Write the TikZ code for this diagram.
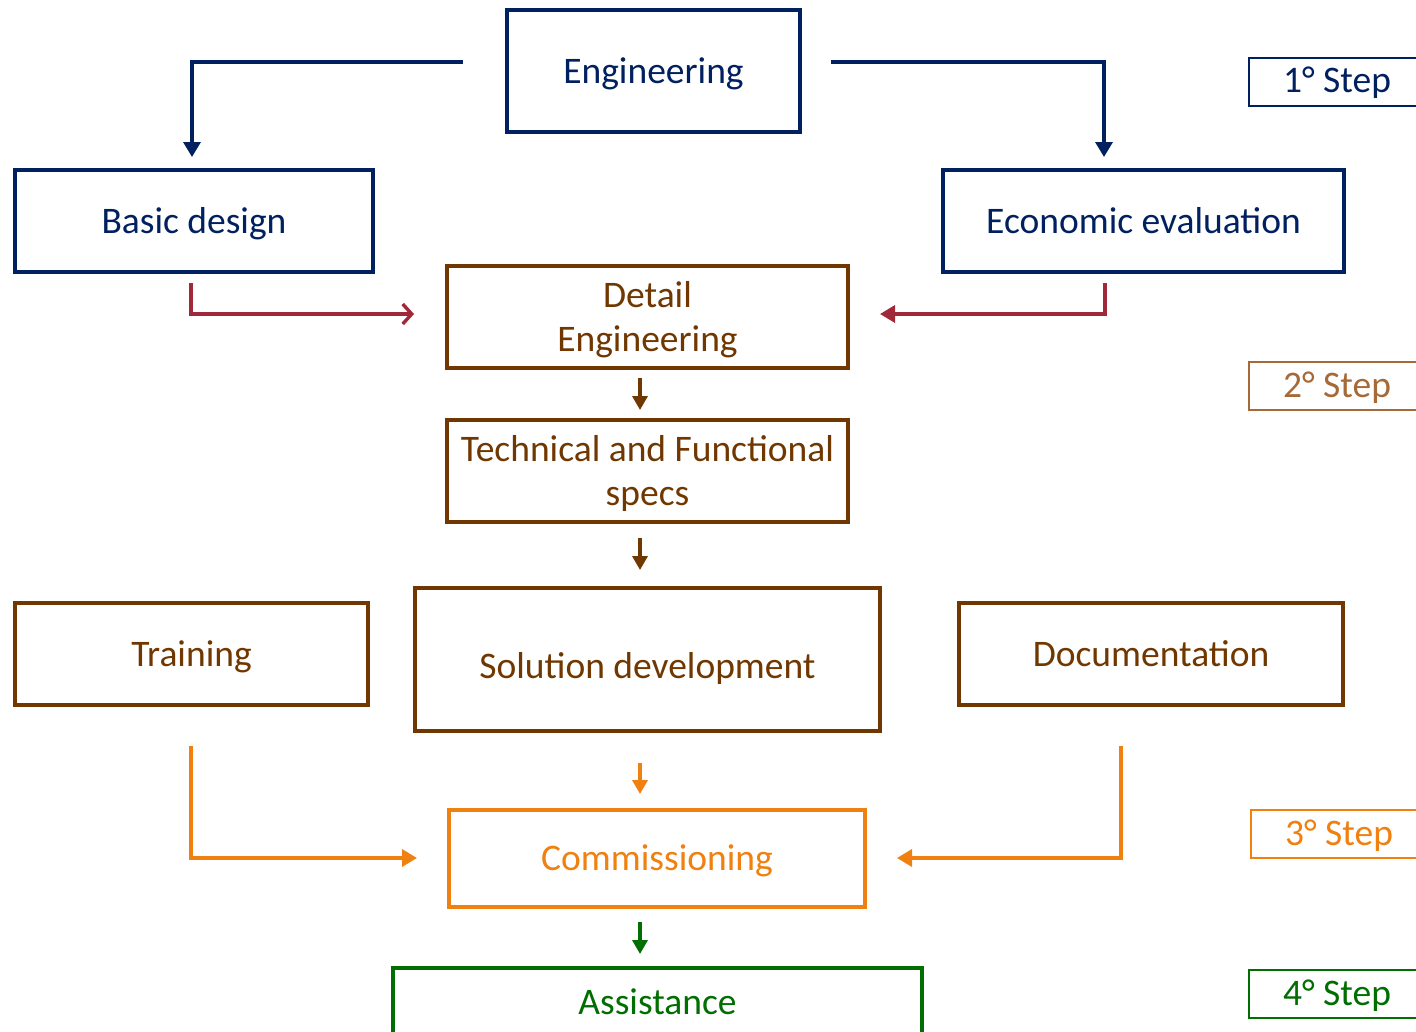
\documentclass[tikz,border=0pt]{standalone}
\usepackage{fontspec}
\setmainfont{Carlito}
\usetikzlibrary{arrows.meta}
\definecolor{navy}{RGB}{0,32,96}
\definecolor{brownc}{RGB}{112,56,0}
\definecolor{lbrown}{RGB}{166,106,56}
\definecolor{crim}{RGB}{160,40,56}
\definecolor{orng}{RGB}{240,128,16}
\definecolor{grn}{RGB}{0,110,0}
\tikzset{
  box/.style={draw=#1, text=#1, line width=3.6pt, inner sep=0pt, align=center,
    text height=30pt, text depth=6pt,
    font=\fontsize{37.5}{44}\selectfont},
  twoline/.style={text height=74pt},
  stepbox/.style={draw=#1, text=#1, line width=2pt, inner sep=0pt, anchor=west,
    text height=28pt, text depth=6pt,
    minimum width=176pt, minimum height=48pt, font=\fontsize{37.5}{44}\selectfont},
  conn/.style={draw=#1, line width=3.4pt},
  tri/.style={-{Triangle[width=17pt,length=15pt]}},
  smalltri/.style={-{Triangle[width=15pt,length=14pt]}},
  barb/.style={-{Straight Barb[width=20pt,length=9pt]}},
}
\begin{document}
\begin{tikzpicture}[x=1pt,y=-1pt]
\clip (0,0) rectangle (1416,1031);
\fill[white] (0,0) rectangle (1416,1031);
% boxes
\node[box=navy, minimum width=293pt, minimum height=122pt] (eng) at (653.5,71) {Engineering};
\node[box=navy, minimum width=358pt, minimum height=102pt] (basic) at (194,221) {Basic design};
\node[box=navy, minimum width=401pt, minimum height=102pt] (econ) at (1143.5,221) {Economic evaluation};
\node[box=brownc, twoline, minimum width=401pt, minimum height=102pt] (detail) at (647.5,317) {Detail\\Engineering};
\node[box=brownc, twoline, minimum width=401pt, minimum height=102pt] (tech) at (647.5,471) {Technical and Functional\\specs};
\node[box=brownc, minimum width=353pt, minimum height=102pt] (train) at (191.5,654) {Training};
\node[box=brownc, minimum width=465pt, minimum height=143pt] (sol) at (647.5,659.5) {\raisebox{-7pt}{Solution development}};
\node[box=brownc, minimum width=384pt, minimum height=102pt] (doc) at (1151,654) {Documentation};
\node[box=orng, minimum width=416pt, minimum height=97pt] (comm) at (657,858.5) {Commissioning};
\node[box=grn, minimum width=529pt, minimum height=70pt, anchor=north] (assist) at (657.5,966) {Assistance};
% step labels
\node[stepbox=navy] (s1) at (1248,81.5) {1° Step};
\node[stepbox=lbrown] (s2) at (1248,386) {2° Step};
\node[stepbox=orng] (s3) at (1250,834) {3° Step};
\node[stepbox=grn] (s4) at (1248,994) {4° Step};
% connector coordinates
\coordinate (engL) at (463,62);
\coordinate (engR) at (831,62);
\coordinate (basicIn) at (192,157);
\coordinate (econIn) at (1104,157);
\coordinate (basicOut) at (191,283);
\coordinate (econOut) at (1105,283);
\coordinate (detInL) at (414,314);
\coordinate (detInR) at (880,314);
\coordinate (a1s) at (640,378); \coordinate (a1e) at (640,410);
\coordinate (a2s) at (640,538); \coordinate (a2e) at (640,570);
\coordinate (a3s) at (640,763); \coordinate (a3e) at (640,794);
\coordinate (a4s) at (640,922); \coordinate (a4e) at (640,954);
\coordinate (trainOut) at (191,746);
\coordinate (docOut) at (1121,746);
\coordinate (commInL) at (417,858);
\coordinate (commInR) at (897,858);
% connectors
\draw[conn=navy, tri] (engL) -| (basicIn);
\draw[conn=navy, tri] (engR) -| (econIn);
\draw[conn=crim, barb] (basicOut) |- (detInL);
\draw[conn=crim, tri] (econOut) |- (detInR);
\draw[conn=brownc, smalltri] (a1s) -- (a1e);
\draw[conn=brownc, smalltri] (a2s) -- (a2e);
\draw[conn=orng, smalltri] (a3s) -- (a3e);
\draw[conn=grn, smalltri] (a4s) -- (a4e);
\draw[conn=orng, tri] (trainOut) |- (commInL);
\draw[conn=orng, tri] (docOut) |- (commInR);
\end{tikzpicture}
\end{document}
